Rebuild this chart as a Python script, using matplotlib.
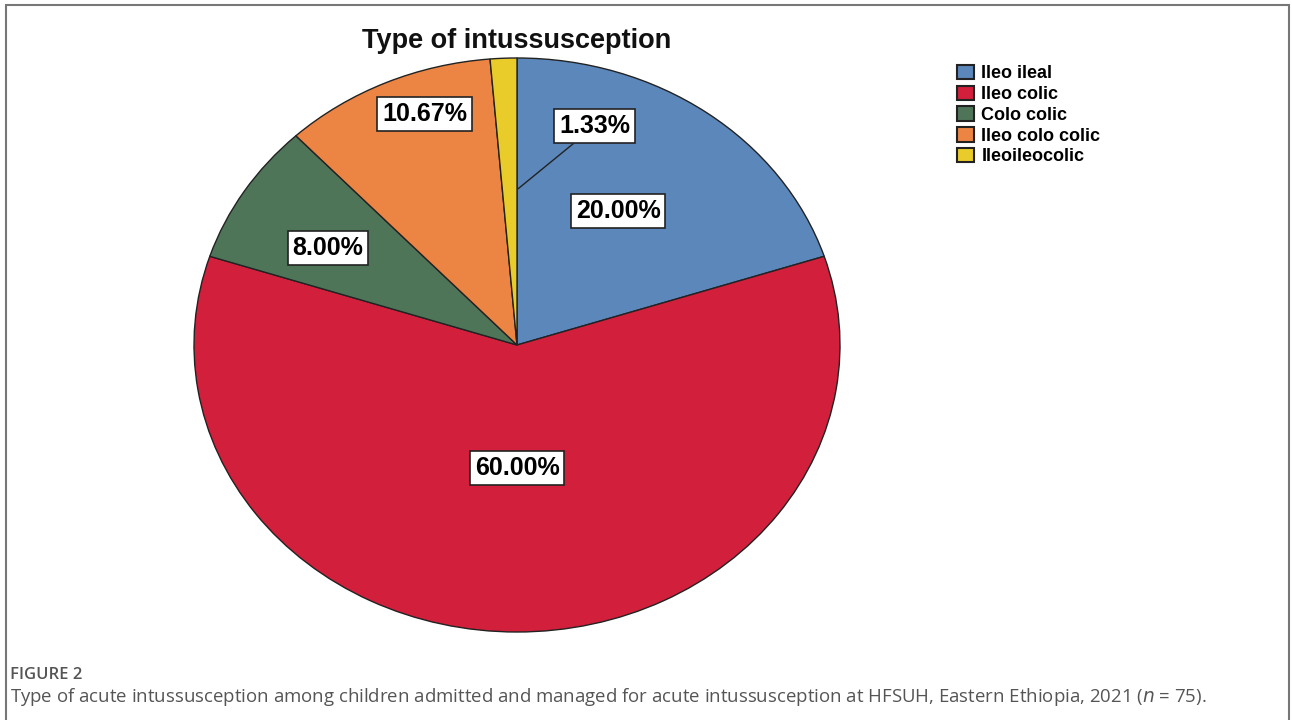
import matplotlib
matplotlib.use("Agg")
import matplotlib.pyplot as plt
from matplotlib.patches import Rectangle

# ---- data ----
categories = ["Ileo ileal", "Ileo colic", "Colo colic", "Ileo colo colic", "Ileoileocolic"]
percentages = [20.00, 60.00, 8.00, 10.67, 1.33]
colors = ["#5b87bb", "#d11f3c", "#4f7559", "#ec8544", "#e9cc2a"]
title = "Type of intussusception"
caption_head = "FIGURE 2"
caption_text = ("Type of acute intussusception among children admitted and managed for acute "
                "intussusception at HFSUH, Eastern Ethiopia, 2021 ($\\mathit{n}$ = 75).")

# label positions (layout, in pie data units)
label_pos = [(0.313, 0.467), (0.0, -0.429), (-0.585, 0.338), (-0.285, 0.805), (0.241, 0.763)]

W, H = 1292, 720
fig = plt.figure(figsize=(W / 100, H / 100), dpi=100)
fig.patch.set_facecolor("white")

# pie axes: ellipse centre (517,345), rx 323, ry 287
cx, cy, rx, ry = 517, 345, 323, 287
ax = fig.add_axes([(cx - rx) / W, (H - (cy + ry)) / H, 2 * rx / W, 2 * ry / H])
wedges, _ = ax.pie(percentages, colors=colors, startangle=90, counterclock=False,
                   radius=1.0, wedgeprops=dict(edgecolor="#222222", linewidth=1.0))
ax.set_aspect("auto")
ax.set_xlim(-1, 1)
ax.set_ylim(-1, 1)
ax.axis("off")

bbox = dict(boxstyle="square,pad=0.2", facecolor="white", edgecolor="#222222", linewidth=1.2)
for i, (p, pos) in enumerate(zip(percentages, label_pos)):
    txt = f"{p:.2f}%"
    if i == 4:
        ax.annotate(txt, xy=(0.003, 0.544), xytext=pos, ha="center", va="center",
                    fontsize=18, fontweight="bold", family="Liberation Sans", bbox=bbox,
                    arrowprops=dict(arrowstyle="-", color="#222222", lw=1.0,
                                    shrinkA=0, shrinkB=0))
    else:
        ax.text(pos[0], pos[1], txt, ha="center", va="center", fontsize=18,
                fontweight="bold", family="Liberation Sans", bbox=bbox)

fig.text(cx / W, 1 - 41 / H, title, ha="center", va="center", fontsize=19.5,
         fontweight="bold", family="Liberation Sans", color="#111111")

leg = fig.legend(wedges, categories, loc="upper left",
                 bbox_to_anchor=(957 / W, 1 - 65 / H), frameon=False,
                 handlelength=0.95, handleheight=0.85, handletextpad=0.4,
                 labelspacing=0.18, borderaxespad=0, borderpad=0,
                 prop=dict(family="Liberation Sans", weight="bold", size=13))
for h in leg.legend_handles:
    h.set_edgecolor("#222222")
    h.set_linewidth(1.5)

# caption
fig.text(10 / W, 1 - 675 / H, caption_head, ha="left", va="center", fontsize=12,
         family="Open Sans", fontweight="semibold", color="#555555")
fig.text(10 / W, 1 - 697 / H, caption_text, ha="left", va="center", fontsize=13.4,
         family="Open Sans", color="#555555")

# outer border
fig.patches.append(Rectangle((6 / W, -0.02), (1289 - 6) / W, (H - 5) / H + 0.02,
                             transform=fig.transFigure, fill=False,
                             edgecolor="#777777", linewidth=1.5))

fig.savefig("out.png", dpi=100)
